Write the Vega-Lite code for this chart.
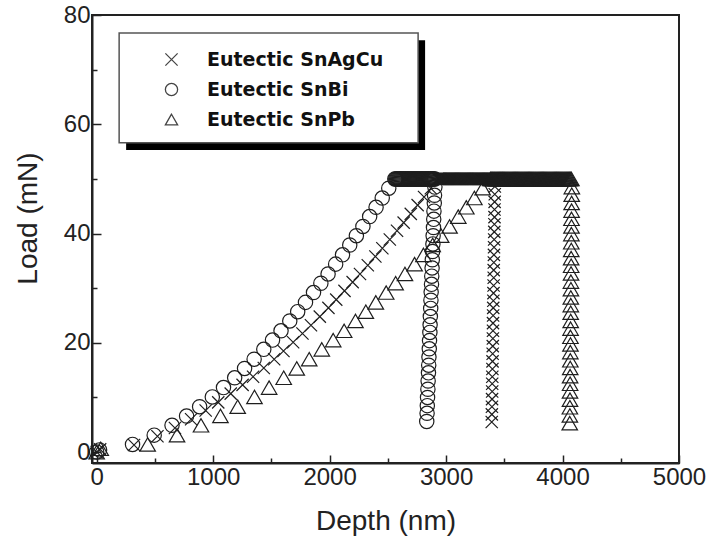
{
  "$schema": "https://vega.github.io/schema/vega-lite/v6.json",
  "autosize": {"type": "none"},
  "padding": {"left": 92, "top": 15, "right": 32, "bottom": 89},
  "width": 587,
  "height": 448,
  "background": "white",
  "config": {
    "view": {"stroke": "#222", "strokeWidth": 2},
    "axis": {"grid": false, "domainColor": "#222", "domainWidth": 2, "tickColor": "#222", "tickWidth": 1.5,
      "labelFont": "Liberation Sans", "labelFontSize": 24, "labelColor": "#222",
      "titleFont": "Liberation Sans", "titleFontSize": 28, "titleFontWeight": "normal", "titleColor": "#222"}
  },
  "datasets": {
    "curves": [
      {"alloy": "Eutectic SnAgCu", "depth": 0, "load": 0},
      {"alloy": "Eutectic SnAgCu", "depth": 30, "load": 0.5},
      {"alloy": "Eutectic SnAgCu", "depth": 321, "load": 1.3},
      {"alloy": "Eutectic SnAgCu", "depth": 522, "load": 2.9},
      {"alloy": "Eutectic SnAgCu", "depth": 672, "load": 4.4},
      {"alloy": "Eutectic SnAgCu", "depth": 811, "load": 6.0},
      {"alloy": "Eutectic SnAgCu", "depth": 936, "load": 7.6},
      {"alloy": "Eutectic SnAgCu", "depth": 1044, "load": 9.1},
      {"alloy": "Eutectic SnAgCu", "depth": 1151, "load": 10.7},
      {"alloy": "Eutectic SnAgCu", "depth": 1253, "load": 12.3},
      {"alloy": "Eutectic SnAgCu", "depth": 1343, "load": 13.8},
      {"alloy": "Eutectic SnAgCu", "depth": 1435, "load": 15.4},
      {"alloy": "Eutectic SnAgCu", "depth": 1524, "load": 17.0},
      {"alloy": "Eutectic SnAgCu", "depth": 1604, "load": 18.5},
      {"alloy": "Eutectic SnAgCu", "depth": 1687, "load": 20.1},
      {"alloy": "Eutectic SnAgCu", "depth": 1767, "load": 21.7},
      {"alloy": "Eutectic SnAgCu", "depth": 1840, "load": 23.2},
      {"alloy": "Eutectic SnAgCu", "depth": 1916, "load": 24.8},
      {"alloy": "Eutectic SnAgCu", "depth": 1990, "load": 26.4},
      {"alloy": "Eutectic SnAgCu", "depth": 2057, "load": 27.9},
      {"alloy": "Eutectic SnAgCu", "depth": 2128, "load": 29.5},
      {"alloy": "Eutectic SnAgCu", "depth": 2198, "load": 31.1},
      {"alloy": "Eutectic SnAgCu", "depth": 2261, "load": 32.6},
      {"alloy": "Eutectic SnAgCu", "depth": 2328, "load": 34.2},
      {"alloy": "Eutectic SnAgCu", "depth": 2393, "load": 35.8},
      {"alloy": "Eutectic SnAgCu", "depth": 2453, "load": 37.3},
      {"alloy": "Eutectic SnAgCu", "depth": 2517, "load": 38.9},
      {"alloy": "Eutectic SnAgCu", "depth": 2579, "load": 40.5},
      {"alloy": "Eutectic SnAgCu", "depth": 2636, "load": 42.0},
      {"alloy": "Eutectic SnAgCu", "depth": 2697, "load": 43.6},
      {"alloy": "Eutectic SnAgCu", "depth": 2756, "load": 45.2},
      {"alloy": "Eutectic SnAgCu", "depth": 2811, "load": 46.7},
      {"alloy": "Eutectic SnAgCu", "depth": 2869, "load": 48.3},
      {"alloy": "Eutectic SnAgCu", "depth": 2930, "load": 50},
      {"alloy": "Eutectic SnAgCu", "depth": 2938, "load": 50},
      {"alloy": "Eutectic SnAgCu", "depth": 2946, "load": 50},
      {"alloy": "Eutectic SnAgCu", "depth": 2954, "load": 50},
      {"alloy": "Eutectic SnAgCu", "depth": 2962, "load": 50},
      {"alloy": "Eutectic SnAgCu", "depth": 2970, "load": 50},
      {"alloy": "Eutectic SnAgCu", "depth": 2978, "load": 50},
      {"alloy": "Eutectic SnAgCu", "depth": 2986, "load": 50},
      {"alloy": "Eutectic SnAgCu", "depth": 2994, "load": 50},
      {"alloy": "Eutectic SnAgCu", "depth": 3002, "load": 50},
      {"alloy": "Eutectic SnAgCu", "depth": 3010, "load": 50},
      {"alloy": "Eutectic SnAgCu", "depth": 3018, "load": 50},
      {"alloy": "Eutectic SnAgCu", "depth": 3026, "load": 50},
      {"alloy": "Eutectic SnAgCu", "depth": 3034, "load": 50},
      {"alloy": "Eutectic SnAgCu", "depth": 3042, "load": 50},
      {"alloy": "Eutectic SnAgCu", "depth": 3050, "load": 50},
      {"alloy": "Eutectic SnAgCu", "depth": 3058, "load": 50},
      {"alloy": "Eutectic SnAgCu", "depth": 3066, "load": 50},
      {"alloy": "Eutectic SnAgCu", "depth": 3074, "load": 50},
      {"alloy": "Eutectic SnAgCu", "depth": 3082, "load": 50},
      {"alloy": "Eutectic SnAgCu", "depth": 3090, "load": 50},
      {"alloy": "Eutectic SnAgCu", "depth": 3098, "load": 50},
      {"alloy": "Eutectic SnAgCu", "depth": 3106, "load": 50},
      {"alloy": "Eutectic SnAgCu", "depth": 3114, "load": 50},
      {"alloy": "Eutectic SnAgCu", "depth": 3122, "load": 50},
      {"alloy": "Eutectic SnAgCu", "depth": 3130, "load": 50},
      {"alloy": "Eutectic SnAgCu", "depth": 3138, "load": 50},
      {"alloy": "Eutectic SnAgCu", "depth": 3146, "load": 50},
      {"alloy": "Eutectic SnAgCu", "depth": 3154, "load": 50},
      {"alloy": "Eutectic SnAgCu", "depth": 3162, "load": 50},
      {"alloy": "Eutectic SnAgCu", "depth": 3170, "load": 50},
      {"alloy": "Eutectic SnAgCu", "depth": 3178, "load": 50},
      {"alloy": "Eutectic SnAgCu", "depth": 3186, "load": 50},
      {"alloy": "Eutectic SnAgCu", "depth": 3194, "load": 50},
      {"alloy": "Eutectic SnAgCu", "depth": 3202, "load": 50},
      {"alloy": "Eutectic SnAgCu", "depth": 3210, "load": 50},
      {"alloy": "Eutectic SnAgCu", "depth": 3218, "load": 50},
      {"alloy": "Eutectic SnAgCu", "depth": 3226, "load": 50},
      {"alloy": "Eutectic SnAgCu", "depth": 3234, "load": 50},
      {"alloy": "Eutectic SnAgCu", "depth": 3242, "load": 50},
      {"alloy": "Eutectic SnAgCu", "depth": 3250, "load": 50},
      {"alloy": "Eutectic SnAgCu", "depth": 3258, "load": 50},
      {"alloy": "Eutectic SnAgCu", "depth": 3266, "load": 50},
      {"alloy": "Eutectic SnAgCu", "depth": 3274, "load": 50},
      {"alloy": "Eutectic SnAgCu", "depth": 3282, "load": 50},
      {"alloy": "Eutectic SnAgCu", "depth": 3290, "load": 50},
      {"alloy": "Eutectic SnAgCu", "depth": 3298, "load": 50},
      {"alloy": "Eutectic SnAgCu", "depth": 3306, "load": 50},
      {"alloy": "Eutectic SnAgCu", "depth": 3314, "load": 50},
      {"alloy": "Eutectic SnAgCu", "depth": 3322, "load": 50},
      {"alloy": "Eutectic SnAgCu", "depth": 3330, "load": 50},
      {"alloy": "Eutectic SnAgCu", "depth": 3338, "load": 50},
      {"alloy": "Eutectic SnAgCu", "depth": 3346, "load": 50},
      {"alloy": "Eutectic SnAgCu", "depth": 3354, "load": 50},
      {"alloy": "Eutectic SnAgCu", "depth": 3362, "load": 50},
      {"alloy": "Eutectic SnAgCu", "depth": 3370, "load": 50},
      {"alloy": "Eutectic SnAgCu", "depth": 3378, "load": 50},
      {"alloy": "Eutectic SnAgCu", "depth": 3386, "load": 50},
      {"alloy": "Eutectic SnAgCu", "depth": 3394, "load": 50},
      {"alloy": "Eutectic SnAgCu", "depth": 3402, "load": 50},
      {"alloy": "Eutectic SnAgCu", "depth": 3410, "load": 50},
      {"alloy": "Eutectic SnAgCu", "depth": 3418, "load": 50},
      {"alloy": "Eutectic SnAgCu", "depth": 3419, "load": 48.6},
      {"alloy": "Eutectic SnAgCu", "depth": 3418, "load": 47.2},
      {"alloy": "Eutectic SnAgCu", "depth": 3417, "load": 45.8},
      {"alloy": "Eutectic SnAgCu", "depth": 3416, "load": 44.4},
      {"alloy": "Eutectic SnAgCu", "depth": 3416, "load": 43.0},
      {"alloy": "Eutectic SnAgCu", "depth": 3415, "load": 41.7},
      {"alloy": "Eutectic SnAgCu", "depth": 3414, "load": 40.3},
      {"alloy": "Eutectic SnAgCu", "depth": 3413, "load": 38.9},
      {"alloy": "Eutectic SnAgCu", "depth": 3412, "load": 37.5},
      {"alloy": "Eutectic SnAgCu", "depth": 3411, "load": 36.1},
      {"alloy": "Eutectic SnAgCu", "depth": 3410, "load": 34.7},
      {"alloy": "Eutectic SnAgCu", "depth": 3409, "load": 33.3},
      {"alloy": "Eutectic SnAgCu", "depth": 3409, "load": 31.9},
      {"alloy": "Eutectic SnAgCu", "depth": 3408, "load": 30.5},
      {"alloy": "Eutectic SnAgCu", "depth": 3407, "load": 29.1},
      {"alloy": "Eutectic SnAgCu", "depth": 3406, "load": 27.7},
      {"alloy": "Eutectic SnAgCu", "depth": 3405, "load": 26.4},
      {"alloy": "Eutectic SnAgCu", "depth": 3404, "load": 25.0},
      {"alloy": "Eutectic SnAgCu", "depth": 3403, "load": 23.6},
      {"alloy": "Eutectic SnAgCu", "depth": 3403, "load": 22.2},
      {"alloy": "Eutectic SnAgCu", "depth": 3402, "load": 20.8},
      {"alloy": "Eutectic SnAgCu", "depth": 3401, "load": 19.4},
      {"alloy": "Eutectic SnAgCu", "depth": 3400, "load": 18.0},
      {"alloy": "Eutectic SnAgCu", "depth": 3399, "load": 16.6},
      {"alloy": "Eutectic SnAgCu", "depth": 3398, "load": 15.2},
      {"alloy": "Eutectic SnAgCu", "depth": 3397, "load": 13.8},
      {"alloy": "Eutectic SnAgCu", "depth": 3396, "load": 12.5},
      {"alloy": "Eutectic SnAgCu", "depth": 3396, "load": 11.1},
      {"alloy": "Eutectic SnAgCu", "depth": 3395, "load": 9.7},
      {"alloy": "Eutectic SnAgCu", "depth": 3394, "load": 8.3},
      {"alloy": "Eutectic SnAgCu", "depth": 3393, "load": 6.9},
      {"alloy": "Eutectic SnAgCu", "depth": 3392, "load": 5.5},

      {"alloy": "Eutectic SnBi", "depth": 0, "load": 0},
      {"alloy": "Eutectic SnBi", "depth": 25, "load": 0.4},
      {"alloy": "Eutectic SnBi", "depth": 308, "load": 1.4},
      {"alloy": "Eutectic SnBi", "depth": 494, "load": 3.1},
      {"alloy": "Eutectic SnBi", "depth": 647, "load": 4.9},
      {"alloy": "Eutectic SnBi", "depth": 772, "load": 6.6},
      {"alloy": "Eutectic SnBi", "depth": 884, "load": 8.3},
      {"alloy": "Eutectic SnBi", "depth": 993, "load": 10.1},
      {"alloy": "Eutectic SnBi", "depth": 1089, "load": 11.8},
      {"alloy": "Eutectic SnBi", "depth": 1185, "load": 13.6},
      {"alloy": "Eutectic SnBi", "depth": 1270, "load": 15.3},
      {"alloy": "Eutectic SnBi", "depth": 1352, "load": 17.0},
      {"alloy": "Eutectic SnBi", "depth": 1435, "load": 18.8},
      {"alloy": "Eutectic SnBi", "depth": 1510, "load": 20.5},
      {"alloy": "Eutectic SnBi", "depth": 1583, "load": 22.2},
      {"alloy": "Eutectic SnBi", "depth": 1658, "load": 24.0},
      {"alloy": "Eutectic SnBi", "depth": 1726, "load": 25.7},
      {"alloy": "Eutectic SnBi", "depth": 1793, "load": 27.4},
      {"alloy": "Eutectic SnBi", "depth": 1862, "load": 29.2},
      {"alloy": "Eutectic SnBi", "depth": 1925, "load": 30.9},
      {"alloy": "Eutectic SnBi", "depth": 1987, "load": 32.6},
      {"alloy": "Eutectic SnBi", "depth": 2052, "load": 34.4},
      {"alloy": "Eutectic SnBi", "depth": 2111, "load": 36.1},
      {"alloy": "Eutectic SnBi", "depth": 2173, "load": 37.9},
      {"alloy": "Eutectic SnBi", "depth": 2230, "load": 39.6},
      {"alloy": "Eutectic SnBi", "depth": 2286, "load": 41.3},
      {"alloy": "Eutectic SnBi", "depth": 2344, "load": 43.1},
      {"alloy": "Eutectic SnBi", "depth": 2399, "load": 44.8},
      {"alloy": "Eutectic SnBi", "depth": 2452, "load": 46.5},
      {"alloy": "Eutectic SnBi", "depth": 2508, "load": 48.3},
      {"alloy": "Eutectic SnBi", "depth": 2560, "load": 50},
      {"alloy": "Eutectic SnBi", "depth": 2568, "load": 50},
      {"alloy": "Eutectic SnBi", "depth": 2576, "load": 50},
      {"alloy": "Eutectic SnBi", "depth": 2584, "load": 50},
      {"alloy": "Eutectic SnBi", "depth": 2592, "load": 50},
      {"alloy": "Eutectic SnBi", "depth": 2600, "load": 50},
      {"alloy": "Eutectic SnBi", "depth": 2608, "load": 50},
      {"alloy": "Eutectic SnBi", "depth": 2616, "load": 50},
      {"alloy": "Eutectic SnBi", "depth": 2624, "load": 50},
      {"alloy": "Eutectic SnBi", "depth": 2632, "load": 50},
      {"alloy": "Eutectic SnBi", "depth": 2640, "load": 50},
      {"alloy": "Eutectic SnBi", "depth": 2648, "load": 50},
      {"alloy": "Eutectic SnBi", "depth": 2656, "load": 50},
      {"alloy": "Eutectic SnBi", "depth": 2664, "load": 50},
      {"alloy": "Eutectic SnBi", "depth": 2672, "load": 50},
      {"alloy": "Eutectic SnBi", "depth": 2680, "load": 50},
      {"alloy": "Eutectic SnBi", "depth": 2688, "load": 50},
      {"alloy": "Eutectic SnBi", "depth": 2696, "load": 50},
      {"alloy": "Eutectic SnBi", "depth": 2704, "load": 50},
      {"alloy": "Eutectic SnBi", "depth": 2712, "load": 50},
      {"alloy": "Eutectic SnBi", "depth": 2720, "load": 50},
      {"alloy": "Eutectic SnBi", "depth": 2728, "load": 50},
      {"alloy": "Eutectic SnBi", "depth": 2736, "load": 50},
      {"alloy": "Eutectic SnBi", "depth": 2744, "load": 50},
      {"alloy": "Eutectic SnBi", "depth": 2752, "load": 50},
      {"alloy": "Eutectic SnBi", "depth": 2760, "load": 50},
      {"alloy": "Eutectic SnBi", "depth": 2768, "load": 50},
      {"alloy": "Eutectic SnBi", "depth": 2776, "load": 50},
      {"alloy": "Eutectic SnBi", "depth": 2784, "load": 50},
      {"alloy": "Eutectic SnBi", "depth": 2792, "load": 50},
      {"alloy": "Eutectic SnBi", "depth": 2800, "load": 50},
      {"alloy": "Eutectic SnBi", "depth": 2808, "load": 50},
      {"alloy": "Eutectic SnBi", "depth": 2816, "load": 50},
      {"alloy": "Eutectic SnBi", "depth": 2824, "load": 50},
      {"alloy": "Eutectic SnBi", "depth": 2832, "load": 50},
      {"alloy": "Eutectic SnBi", "depth": 2840, "load": 50},
      {"alloy": "Eutectic SnBi", "depth": 2848, "load": 50},
      {"alloy": "Eutectic SnBi", "depth": 2856, "load": 50},
      {"alloy": "Eutectic SnBi", "depth": 2864, "load": 50},
      {"alloy": "Eutectic SnBi", "depth": 2872, "load": 50},
      {"alloy": "Eutectic SnBi", "depth": 2880, "load": 50},
      {"alloy": "Eutectic SnBi", "depth": 2888, "load": 50},
      {"alloy": "Eutectic SnBi", "depth": 2896, "load": 50},
      {"alloy": "Eutectic SnBi", "depth": 2904, "load": 50},
      {"alloy": "Eutectic SnBi", "depth": 2904, "load": 48.5},
      {"alloy": "Eutectic SnBi", "depth": 2901, "load": 47.0},
      {"alloy": "Eutectic SnBi", "depth": 2899, "load": 45.6},
      {"alloy": "Eutectic SnBi", "depth": 2896, "load": 44.1},
      {"alloy": "Eutectic SnBi", "depth": 2894, "load": 42.6},
      {"alloy": "Eutectic SnBi", "depth": 2892, "load": 41.1},
      {"alloy": "Eutectic SnBi", "depth": 2889, "load": 39.6},
      {"alloy": "Eutectic SnBi", "depth": 2887, "load": 38.1},
      {"alloy": "Eutectic SnBi", "depth": 2884, "load": 36.7},
      {"alloy": "Eutectic SnBi", "depth": 2882, "load": 35.2},
      {"alloy": "Eutectic SnBi", "depth": 2880, "load": 33.7},
      {"alloy": "Eutectic SnBi", "depth": 2877, "load": 32.2},
      {"alloy": "Eutectic SnBi", "depth": 2875, "load": 30.7},
      {"alloy": "Eutectic SnBi", "depth": 2872, "load": 29.3},
      {"alloy": "Eutectic SnBi", "depth": 2870, "load": 27.8},
      {"alloy": "Eutectic SnBi", "depth": 2868, "load": 26.3},
      {"alloy": "Eutectic SnBi", "depth": 2865, "load": 24.8},
      {"alloy": "Eutectic SnBi", "depth": 2863, "load": 23.3},
      {"alloy": "Eutectic SnBi", "depth": 2861, "load": 21.9},
      {"alloy": "Eutectic SnBi", "depth": 2858, "load": 20.4},
      {"alloy": "Eutectic SnBi", "depth": 2856, "load": 18.9},
      {"alloy": "Eutectic SnBi", "depth": 2853, "load": 17.4},
      {"alloy": "Eutectic SnBi", "depth": 2851, "load": 15.9},
      {"alloy": "Eutectic SnBi", "depth": 2849, "load": 14.5},
      {"alloy": "Eutectic SnBi", "depth": 2846, "load": 13.0},
      {"alloy": "Eutectic SnBi", "depth": 2844, "load": 11.5},
      {"alloy": "Eutectic SnBi", "depth": 2841, "load": 10.0},
      {"alloy": "Eutectic SnBi", "depth": 2839, "load": 8.5},
      {"alloy": "Eutectic SnBi", "depth": 2837, "load": 7.1},
      {"alloy": "Eutectic SnBi", "depth": 2834, "load": 5.6},

      {"alloy": "Eutectic SnPb", "depth": 0, "load": 0},
      {"alloy": "Eutectic SnPb", "depth": 35, "load": 0.6},
      {"alloy": "Eutectic SnPb", "depth": 438, "load": 1.4},
      {"alloy": "Eutectic SnPb", "depth": 690, "load": 3.1},
      {"alloy": "Eutectic SnPb", "depth": 896, "load": 4.9},
      {"alloy": "Eutectic SnPb", "depth": 1063, "load": 6.6},
      {"alloy": "Eutectic SnPb", "depth": 1211, "load": 8.3},
      {"alloy": "Eutectic SnPb", "depth": 1355, "load": 10.1},
      {"alloy": "Eutectic SnPb", "depth": 1481, "load": 11.8},
      {"alloy": "Eutectic SnPb", "depth": 1606, "load": 13.6},
      {"alloy": "Eutectic SnPb", "depth": 1718, "load": 15.3},
      {"alloy": "Eutectic SnPb", "depth": 1825, "load": 17.0},
      {"alloy": "Eutectic SnPb", "depth": 1933, "load": 18.8},
      {"alloy": "Eutectic SnPb", "depth": 2031, "load": 20.5},
      {"alloy": "Eutectic SnPb", "depth": 2125, "load": 22.2},
      {"alloy": "Eutectic SnPb", "depth": 2222, "load": 24.0},
      {"alloy": "Eutectic SnPb", "depth": 2311, "load": 25.7},
      {"alloy": "Eutectic SnPb", "depth": 2397, "load": 27.4},
      {"alloy": "Eutectic SnPb", "depth": 2486, "load": 29.2},
      {"alloy": "Eutectic SnPb", "depth": 2567, "load": 30.9},
      {"alloy": "Eutectic SnPb", "depth": 2647, "load": 32.6},
      {"alloy": "Eutectic SnPb", "depth": 2730, "load": 34.4},
      {"alloy": "Eutectic SnPb", "depth": 2806, "load": 36.1},
      {"alloy": "Eutectic SnPb", "depth": 2885, "load": 37.9},
      {"alloy": "Eutectic SnPb", "depth": 2958, "load": 39.6},
      {"alloy": "Eutectic SnPb", "depth": 3030, "load": 41.3},
      {"alloy": "Eutectic SnPb", "depth": 3105, "load": 43.1},
      {"alloy": "Eutectic SnPb", "depth": 3174, "load": 44.8},
      {"alloy": "Eutectic SnPb", "depth": 3243, "load": 46.5},
      {"alloy": "Eutectic SnPb", "depth": 3314, "load": 48.3},
      {"alloy": "Eutectic SnPb", "depth": 3380, "load": 50},
      {"alloy": "Eutectic SnPb", "depth": 3388, "load": 50},
      {"alloy": "Eutectic SnPb", "depth": 3396, "load": 50},
      {"alloy": "Eutectic SnPb", "depth": 3404, "load": 50},
      {"alloy": "Eutectic SnPb", "depth": 3412, "load": 50},
      {"alloy": "Eutectic SnPb", "depth": 3420, "load": 50},
      {"alloy": "Eutectic SnPb", "depth": 3428, "load": 50},
      {"alloy": "Eutectic SnPb", "depth": 3436, "load": 50},
      {"alloy": "Eutectic SnPb", "depth": 3444, "load": 50},
      {"alloy": "Eutectic SnPb", "depth": 3452, "load": 50},
      {"alloy": "Eutectic SnPb", "depth": 3460, "load": 50},
      {"alloy": "Eutectic SnPb", "depth": 3468, "load": 50},
      {"alloy": "Eutectic SnPb", "depth": 3476, "load": 50},
      {"alloy": "Eutectic SnPb", "depth": 3484, "load": 50},
      {"alloy": "Eutectic SnPb", "depth": 3492, "load": 50},
      {"alloy": "Eutectic SnPb", "depth": 3500, "load": 50},
      {"alloy": "Eutectic SnPb", "depth": 3508, "load": 50},
      {"alloy": "Eutectic SnPb", "depth": 3516, "load": 50},
      {"alloy": "Eutectic SnPb", "depth": 3524, "load": 50},
      {"alloy": "Eutectic SnPb", "depth": 3532, "load": 50},
      {"alloy": "Eutectic SnPb", "depth": 3540, "load": 50},
      {"alloy": "Eutectic SnPb", "depth": 3548, "load": 50},
      {"alloy": "Eutectic SnPb", "depth": 3556, "load": 50},
      {"alloy": "Eutectic SnPb", "depth": 3564, "load": 50},
      {"alloy": "Eutectic SnPb", "depth": 3572, "load": 50},
      {"alloy": "Eutectic SnPb", "depth": 3580, "load": 50},
      {"alloy": "Eutectic SnPb", "depth": 3588, "load": 50},
      {"alloy": "Eutectic SnPb", "depth": 3596, "load": 50},
      {"alloy": "Eutectic SnPb", "depth": 3604, "load": 50},
      {"alloy": "Eutectic SnPb", "depth": 3612, "load": 50},
      {"alloy": "Eutectic SnPb", "depth": 3620, "load": 50},
      {"alloy": "Eutectic SnPb", "depth": 3628, "load": 50},
      {"alloy": "Eutectic SnPb", "depth": 3636, "load": 50},
      {"alloy": "Eutectic SnPb", "depth": 3644, "load": 50},
      {"alloy": "Eutectic SnPb", "depth": 3652, "load": 50},
      {"alloy": "Eutectic SnPb", "depth": 3660, "load": 50},
      {"alloy": "Eutectic SnPb", "depth": 3668, "load": 50},
      {"alloy": "Eutectic SnPb", "depth": 3676, "load": 50},
      {"alloy": "Eutectic SnPb", "depth": 3684, "load": 50},
      {"alloy": "Eutectic SnPb", "depth": 3692, "load": 50},
      {"alloy": "Eutectic SnPb", "depth": 3700, "load": 50},
      {"alloy": "Eutectic SnPb", "depth": 3708, "load": 50},
      {"alloy": "Eutectic SnPb", "depth": 3716, "load": 50},
      {"alloy": "Eutectic SnPb", "depth": 3724, "load": 50},
      {"alloy": "Eutectic SnPb", "depth": 3732, "load": 50},
      {"alloy": "Eutectic SnPb", "depth": 3740, "load": 50},
      {"alloy": "Eutectic SnPb", "depth": 3748, "load": 50},
      {"alloy": "Eutectic SnPb", "depth": 3756, "load": 50},
      {"alloy": "Eutectic SnPb", "depth": 3764, "load": 50},
      {"alloy": "Eutectic SnPb", "depth": 3772, "load": 50},
      {"alloy": "Eutectic SnPb", "depth": 3780, "load": 50},
      {"alloy": "Eutectic SnPb", "depth": 3788, "load": 50},
      {"alloy": "Eutectic SnPb", "depth": 3796, "load": 50},
      {"alloy": "Eutectic SnPb", "depth": 3804, "load": 50},
      {"alloy": "Eutectic SnPb", "depth": 3812, "load": 50},
      {"alloy": "Eutectic SnPb", "depth": 3820, "load": 50},
      {"alloy": "Eutectic SnPb", "depth": 3828, "load": 50},
      {"alloy": "Eutectic SnPb", "depth": 3836, "load": 50},
      {"alloy": "Eutectic SnPb", "depth": 3844, "load": 50},
      {"alloy": "Eutectic SnPb", "depth": 3852, "load": 50},
      {"alloy": "Eutectic SnPb", "depth": 3860, "load": 50},
      {"alloy": "Eutectic SnPb", "depth": 3868, "load": 50},
      {"alloy": "Eutectic SnPb", "depth": 3876, "load": 50},
      {"alloy": "Eutectic SnPb", "depth": 3884, "load": 50},
      {"alloy": "Eutectic SnPb", "depth": 3892, "load": 50},
      {"alloy": "Eutectic SnPb", "depth": 3900, "load": 50},
      {"alloy": "Eutectic SnPb", "depth": 3908, "load": 50},
      {"alloy": "Eutectic SnPb", "depth": 3916, "load": 50},
      {"alloy": "Eutectic SnPb", "depth": 3924, "load": 50},
      {"alloy": "Eutectic SnPb", "depth": 3932, "load": 50},
      {"alloy": "Eutectic SnPb", "depth": 3940, "load": 50},
      {"alloy": "Eutectic SnPb", "depth": 3948, "load": 50},
      {"alloy": "Eutectic SnPb", "depth": 3956, "load": 50},
      {"alloy": "Eutectic SnPb", "depth": 3964, "load": 50},
      {"alloy": "Eutectic SnPb", "depth": 3972, "load": 50},
      {"alloy": "Eutectic SnPb", "depth": 3980, "load": 50},
      {"alloy": "Eutectic SnPb", "depth": 3988, "load": 50},
      {"alloy": "Eutectic SnPb", "depth": 3996, "load": 50},
      {"alloy": "Eutectic SnPb", "depth": 4004, "load": 50},
      {"alloy": "Eutectic SnPb", "depth": 4012, "load": 50},
      {"alloy": "Eutectic SnPb", "depth": 4020, "load": 50},
      {"alloy": "Eutectic SnPb", "depth": 4028, "load": 50},
      {"alloy": "Eutectic SnPb", "depth": 4036, "load": 50},
      {"alloy": "Eutectic SnPb", "depth": 4044, "load": 50},
      {"alloy": "Eutectic SnPb", "depth": 4052, "load": 50},
      {"alloy": "Eutectic SnPb", "depth": 4060, "load": 50},
      {"alloy": "Eutectic SnPb", "depth": 4068, "load": 50},
      {"alloy": "Eutectic SnPb", "depth": 4076, "load": 50},
      {"alloy": "Eutectic SnPb", "depth": 4080, "load": 48.5},
      {"alloy": "Eutectic SnPb", "depth": 4079, "load": 47.1},
      {"alloy": "Eutectic SnPb", "depth": 4078, "load": 45.6},
      {"alloy": "Eutectic SnPb", "depth": 4078, "load": 44.2},
      {"alloy": "Eutectic SnPb", "depth": 4077, "load": 42.7},
      {"alloy": "Eutectic SnPb", "depth": 4077, "load": 41.3},
      {"alloy": "Eutectic SnPb", "depth": 4076, "load": 39.9},
      {"alloy": "Eutectic SnPb", "depth": 4075, "load": 38.4},
      {"alloy": "Eutectic SnPb", "depth": 4075, "load": 37.0},
      {"alloy": "Eutectic SnPb", "depth": 4074, "load": 35.5},
      {"alloy": "Eutectic SnPb", "depth": 4074, "load": 34.1},
      {"alloy": "Eutectic SnPb", "depth": 4073, "load": 32.7},
      {"alloy": "Eutectic SnPb", "depth": 4072, "load": 31.2},
      {"alloy": "Eutectic SnPb", "depth": 4072, "load": 29.8},
      {"alloy": "Eutectic SnPb", "depth": 4071, "load": 28.3},
      {"alloy": "Eutectic SnPb", "depth": 4071, "load": 26.9},
      {"alloy": "Eutectic SnPb", "depth": 4070, "load": 25.5},
      {"alloy": "Eutectic SnPb", "depth": 4070, "load": 24.0},
      {"alloy": "Eutectic SnPb", "depth": 4069, "load": 22.6},
      {"alloy": "Eutectic SnPb", "depth": 4068, "load": 21.1},
      {"alloy": "Eutectic SnPb", "depth": 4068, "load": 19.7},
      {"alloy": "Eutectic SnPb", "depth": 4067, "load": 18.3},
      {"alloy": "Eutectic SnPb", "depth": 4067, "load": 16.8},
      {"alloy": "Eutectic SnPb", "depth": 4066, "load": 15.4},
      {"alloy": "Eutectic SnPb", "depth": 4065, "load": 13.9},
      {"alloy": "Eutectic SnPb", "depth": 4065, "load": 12.5},
      {"alloy": "Eutectic SnPb", "depth": 4064, "load": 11.1},
      {"alloy": "Eutectic SnPb", "depth": 4064, "load": 9.6},
      {"alloy": "Eutectic SnPb", "depth": 4063, "load": 8.2},
      {"alloy": "Eutectic SnPb", "depth": 4063, "load": 6.7},
      {"alloy": "Eutectic SnPb", "depth": 4062, "load": 5.3}
    ]
  },
  "layer": [
    {
      "data": {"values": [{}]},
      "mark": {"type": "rect", "fill": "black"},
      "encoding": {
        "x": {"datum": 253, "type": "quantitative"},
        "x2": {"datum": 2820},
        "y": {"datum": 75.4, "type": "quantitative"},
        "y2": {"datum": 55.3}
      }
    },
    {
      "data": {"values": [{}]},
      "mark": {"type": "rect", "fill": "white", "stroke": "#555", "strokeWidth": 1.5},
      "encoding": {
        "x": {"datum": 193, "type": "quantitative"},
        "x2": {"datum": 2760},
        "y": {"datum": 76.7, "type": "quantitative"},
        "y2": {"datum": 56.6}
      }
    },
    {
      "data": {"name": "curves"},
      "encoding": {
        "x": {"field": "depth", "type": "quantitative",
          "scale": {"domain": [-40, 5000], "nice": false, "zero": false},
          "axis": {"title": "Depth (nm)", "values": [0, 500, 1000, 1500, 2000, 2500, 3000, 3500, 4000, 4500, 5000],
            "format": "d", "labelExpr": "datum.value % 1000 === 0 ? datum.label : ''",
            "tickSize": {"condition": {"test": "datum.value % 1000 === 0", "value": -8}, "value": -5},
            "labelPadding": 10, "titlePadding": 15, "labelFlush": false, "labelOverlap": false}},
        "y": {"field": "load", "type": "quantitative",
          "scale": {"domain": [-2, 80], "nice": false, "zero": false},
          "axis": {"title": "Load (mN)", "values": [0, 10, 20, 30, 40, 50, 60, 70, 80],
            "labelExpr": "datum.value % 20 === 0 ? datum.label : ''",
            "tickSize": {"condition": {"test": "datum.value % 20 === 0", "value": -9}, "value": -5},
            "labelPadding": 11, "titlePadding": 21, "titleY": 203, "labelFlush": false, "labelOverlap": false}},
        "shape": {"field": "alloy", "type": "nominal",
          "scale": {"domain": ["Eutectic SnAgCu", "Eutectic SnBi", "Eutectic SnPb"],
            "range": ["M-1,-1L1,1M1,-1L-1,1", "circle", "triangle-up"]},
          "legend": {"title": null, "orient": "none", "direction": "vertical", "legendX": 70, "legendY": 35, "zindex": 5,
            "symbolSize": 150, "symbolStrokeColor": "#444", "symbolStrokeWidth": 1.3,
            "labelFont": "DejaVu Sans", "labelFontSize": 19, "labelFontWeight": "bold", "labelColor": "#111",
            "labelLimit": 400, "labelOffset": 26, "rowPadding": 10}}
      },
      "layer": [
        {
          "transform": [{"filter": "datum.alloy === 'Eutectic SnAgCu'"}],
          "mark": {"type": "point", "filled": false, "strokeWidth": 1.2, "color": "#1e1e1e", "opacity": 1, "size": 150}
        },
        {
          "transform": [{"filter": "datum.alloy === 'Eutectic SnBi'"}],
          "mark": {"type": "point", "filled": false, "strokeWidth": 1.2, "color": "#1e1e1e", "opacity": 1, "size": 205}
        },
        {
          "transform": [{"filter": "datum.alloy === 'Eutectic SnPb'"}],
          "mark": {"type": "point", "filled": false, "strokeWidth": 1.2, "color": "#1e1e1e", "opacity": 1, "size": 240}
        }
      ]
    }
  ]
}
